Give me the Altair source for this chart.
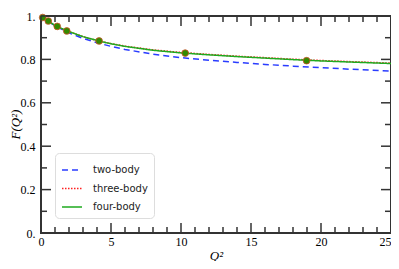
import altair as alt
import pandas as pd

# ---- data ----
q_grid = [0, 0.25, 0.5, 1, 1.5, 2, 3, 4, 5, 6, 8, 10, 12, 14, 16, 18, 20, 22, 25]
two_body = [1.0, 0.989, 0.976, 0.955, 0.938, 0.922, 0.897, 0.877, 0.860, 0.846, 0.824,
            0.808, 0.796, 0.786, 0.777, 0.769, 0.762, 0.755, 0.746]
three_body = [1.0, 0.988, 0.977, 0.957, 0.942, 0.928, 0.905, 0.887, 0.873, 0.861, 0.844,
              0.832, 0.823, 0.815, 0.808, 0.801, 0.795, 0.790, 0.783]
four_body = [1.0, 0.988, 0.977, 0.957, 0.942, 0.928, 0.905, 0.887, 0.872, 0.860, 0.842,
             0.830, 0.821, 0.813, 0.806, 0.799, 0.793, 0.788, 0.781]

pts_q = [0.12, 0.52, 1.16, 1.84, 4.15, 10.3, 18.97]
pts_f = [0.993, 0.977, 0.952, 0.931, 0.885, 0.829, 0.794]

series = ["two-body", "three-body", "four-body"]
colors = ["#2a3cff", "#ff2020", "#1faa1f"]
dashes = [[6, 4], [1.5, 1.5], [1, 0]]

x_major = [0, 5, 10, 15, 20, 25]
x_minor = [1, 2, 3, 4, 6, 7, 8, 9, 11, 12, 13, 14, 16, 17, 18, 19, 21, 22, 23, 24]
y_major = [0, 0.2, 0.4, 0.6, 0.8, 1.0]
y_minor = [0.1, 0.3, 0.5, 0.7, 0.9]

# ---- tables ----
rows = []
for name, vals in zip(series, [two_body, three_body, four_body]):
    for q, f in zip(q_grid, vals):
        rows.append({"series": name, "q": q, "f": f})
df = pd.DataFrame(rows)
pts = pd.DataFrame({"q": pts_q, "f": pts_f})
xmaj = pd.DataFrame({"q": x_major})
xmin = pd.DataFrame({"q": x_minor})
ymaj = pd.DataFrame({"f": y_major})
ymin = pd.DataFrame({"f": y_minor})

W, H = 350, 217
serif = "Liberation Serif"

xscale = alt.Scale(domain=[0, 25], nice=False, zero=False)
yscale = alt.Scale(domain=[0, 1], nice=False, zero=False)

xaxis = alt.Axis(values=x_major, title="Q²", titleFont=serif, titleFontStyle="italic",
                 titleFontSize=13, titleFontWeight="normal", titleColor="#000",
                 labelFont=serif, labelFontSize=12, labelColor="#000",
                 tickSize=0, labelPadding=3, domain=False, grid=False,
                 titleX=175, titleY=26, titleBaseline="alphabetic", labelFlush=False,
                 labelAlign={"condition": {"test": "datum.value == 25", "value": "right"},
                             "value": "center"})
yaxis = alt.Axis(values=y_major, title="F(Q²)", titleFont=serif, titleFontStyle="italic",
                 titleFontSize=13, titleFontWeight="normal", titleColor="#000",
                 labelFont=serif, labelFontSize=12, labelColor="#000",
                 tickSize=0, labelPadding=6, domain=False, grid=False,
                 labelExpr="datum.value == 1 ? '1.' : datum.value == 0 ? '0.' : format(datum.value, '.1f')",
                 titleX=-26, titleY=108, titleAngle=-90, titleBaseline="middle",
                 labelFlush=False)

legend = alt.Legend(title=None, orient="none", legendX=14, legendY=137,
                    symbolType="stroke", symbolSize=400, symbolStrokeWidth=1.5,
                    labelFont="DejaVu Sans", labelFontSize=10, labelColor="#222",
                    labelOffset=10, padding=6, rowPadding=2.5,
                    strokeColor="#dddddd", cornerRadius=4, fillColor="white")

X = alt.X("q:Q", scale=xscale, axis=xaxis)
Y = alt.Y("f:Q", scale=yscale, axis=yaxis)

lines = alt.Chart(df).mark_line(strokeWidth=1.5).encode(
    x=X, y=Y,
    color=alt.Color("series:N", scale=alt.Scale(domain=series, range=colors), legend=legend),
    strokeDash=alt.StrokeDash("series:N", scale=alt.Scale(domain=series, range=dashes), legend=legend),
)

dots = alt.Chart(pts).mark_circle(size=45, fill="#338a00", stroke="#d0502a",
                                   strokeWidth=0.8, opacity=1).encode(x=X, y=Y)

tick_color = "#333333"
tw = 1.5

def xticks(data, length):
    bottom = alt.Chart(data).mark_rule(color=tick_color, strokeWidth=tw).encode(
        x=X, y=alt.value(H), y2=alt.value(H - length))
    top = alt.Chart(data).mark_rule(color=tick_color, strokeWidth=tw).encode(
        x=X, y=alt.value(0), y2=alt.value(length))
    return [bottom, top]

def yticks(data, length):
    left = alt.Chart(data).mark_rule(color=tick_color, strokeWidth=tw).encode(
        y=Y, x=alt.value(0), x2=alt.value(length))
    right = alt.Chart(data).mark_rule(color=tick_color, strokeWidth=tw).encode(
        y=Y, x=alt.value(W), x2=alt.value(W - length))
    return [left, right]

layers = [lines, dots] + xticks(xmaj, 10) + xticks(xmin, 6) + yticks(ymaj, 10) + yticks(ymin, 6)

chart = alt.layer(*layers).properties(
    width=W, height=H,
    autosize=alt.AutoSizeParams(type="none"),
    padding={"left": 33, "top": 8, "right": 0, "bottom": 28},
).configure_view(stroke="#333333", strokeWidth=2)

chart.save("out.html", embed_options={"renderer": "svg", "actions": False})
